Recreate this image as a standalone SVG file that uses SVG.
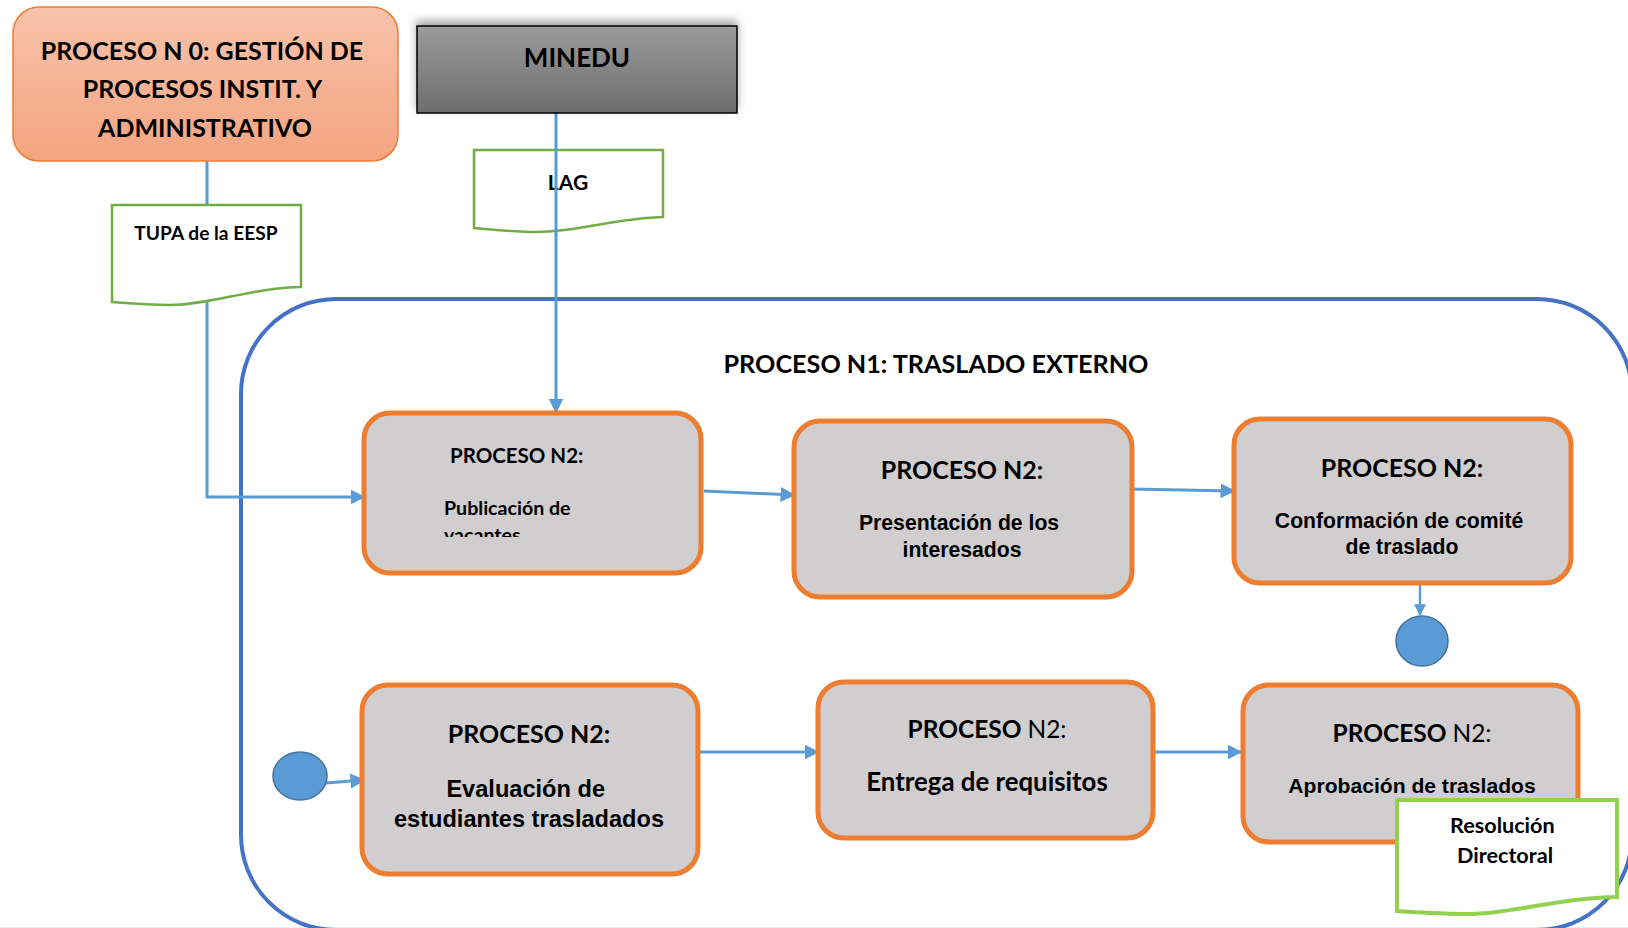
<svg xmlns="http://www.w3.org/2000/svg" width="1628" height="928" viewBox="0 0 1628 928">
  <style>
    .cal { font-family: Lato, "Open Sans", sans-serif; font-weight: 700; fill: #000; }
    .ari { font-family: "Liberation Sans", Arial, sans-serif; font-weight: 700; fill: #000; }
    .reg { font-weight: 400; }
    .proc { fill: #D0CECE; stroke: #ED7D31; stroke-width: 5; }
    .doc { fill: #fff; stroke: #70AD47; stroke-width: 2.5; }
    .doc2 { fill: #fff; stroke: #92D050; stroke-width: 4; }
    .link { fill: none; stroke: #5B9BD5; stroke-width: 3; }
    .dot { fill: #5B9BD5; stroke: #41719C; stroke-width: 1.5; }
  </style>
  <defs>
    <marker id="arr" viewBox="0 0 10 10" refX="9" refY="5" markerWidth="5" markerHeight="5" orient="auto" markerUnits="strokeWidth">
      <path d="M0,0 L10,5 L0,10 Z" fill="#5B9BD5"/>
    </marker>
    <linearGradient id="gOrange" x1="0" y1="0" x2="0" y2="1">
      <stop offset="0" stop-color="#F7C3AC"/>
      <stop offset="1" stop-color="#F4A47F"/>
    </linearGradient>
    <linearGradient id="gGray" x1="0" y1="0" x2="0" y2="1">
      <stop offset="0" stop-color="#9B9B9B"/>
      <stop offset="1" stop-color="#6D6D6D"/>
    </linearGradient>
    <filter id="shadow" x="-10%" y="-40%" width="120%" height="160%">
      <feGaussianBlur in="SourceAlpha" stdDeviation="4"/>
      <feOffset dx="0" dy="-5" result="b"/>
      <feComponentTransfer><feFuncA type="linear" slope="0.35"/></feComponentTransfer>
      <feMerge><feMergeNode/><feMergeNode in="SourceGraphic"/></feMerge>
    </filter>
    <clipPath id="clipPub">
      <rect x="366" y="415" width="333" height="122"/>
    </clipPath>
  </defs>

  <rect x="0" y="0" width="1628" height="928" fill="#fff"/>
  <rect x="0" y="927" width="1628" height="1" fill="#ECEAF6"/>

  <!-- container: PROCESO N1 -->
  <g id="container">
    <rect x="241" y="299" width="1391" height="631" rx="95" ry="95" fill="none" stroke="#4472C4" stroke-width="4"/>
    <text class="cal" x="936" y="373" font-size="25.2" text-anchor="middle">PROCESO N1: TRASLADO EXTERNO</text>
  </g>

  <!-- LAG document (line passes over it) -->
  <g id="doc-lag">
    <path class="doc" d="M474,150 H663 V217 C615,218 575,233 530,232 C505,231 486,229 474,228 Z"/>
    <text class="cal" x="568" y="190" font-size="21" text-anchor="middle">LAG</text>
  </g>

  <!-- connectors -->
  <g id="connectors">
    <path class="link" d="M207,161 V497 H364" marker-end="url(#arr)"/>
    <path class="link" d="M556,113 V412" marker-end="url(#arr)"/>
    <path class="link" d="M704,491 L794,495" marker-end="url(#arr)"/>
    <path class="link" d="M1130,489 L1234,491" marker-end="url(#arr)"/>
    <path class="link" d="M1420,577 V615" marker-end="url(#arr)" style="stroke-width:2.4"/>
    <path class="link" d="M326,783 L364,780" marker-end="url(#arr)"/>
    <path class="link" d="M698,752 H818" marker-end="url(#arr)"/>
    <path class="link" d="M1155,752 H1241" marker-end="url(#arr)"/>
  </g>

  <!-- PROCESO N0 -->
  <g id="proceso-n0">
    <rect x="13" y="7" width="385" height="154" rx="26" fill="url(#gOrange)" stroke="#ED7D31" stroke-width="1.5"/>
    <text class="cal" font-size="25" text-anchor="middle">
      <tspan x="205" y="60">PROCESO N 0: GESTIÓN DE</tspan>
      <tspan x="205" y="98">PROCESOS INSTIT. Y</tspan>
      <tspan x="205" y="137">ADMINISTRATIVO</tspan>
    </text>
  </g>

  <!-- MINEDU -->
  <g id="minedu">
    <rect x="417" y="26" width="320" height="87" fill="url(#gGray)" stroke="#000" stroke-width="1.5" filter="url(#shadow)"/>
    <text class="cal" x="577" y="67" font-size="26" text-anchor="middle">MINEDU</text>
  </g>

  <!-- TUPA document -->
  <g id="doc-tupa">
    <path class="doc" d="M112,205 H301 V287 C250,288 210,305 170,305 C145,305 125,303 112,302 Z"/>
    <text class="cal" x="206" y="240" font-size="19.2" text-anchor="middle">TUPA de la EESP</text>
  </g>

  <!-- Publicación de vacantes -->
  <g id="p-publicacion">
    <rect class="proc" x="364" y="413" width="337" height="160" rx="26"/>
    <text class="cal" x="450" y="463" font-size="20.5">PROCESO N2:</text>
    <g clip-path="url(#clipPub)">
      <text class="cal" font-size="19.6">
        <tspan x="444" y="515">Publicación de</tspan>
        <tspan x="444" y="542">vacantes</tspan>
      </text>
    </g>
  </g>

  <!-- Presentación de los interesados -->
  <g id="p-presentacion">
    <rect class="proc" x="794" y="421" width="338" height="176" rx="26"/>
    <text class="cal" x="962" y="479" font-size="25" text-anchor="middle">PROCESO N2:</text>
    <text class="ari" font-size="21.2" text-anchor="middle">
      <tspan x="962" y="530">Presentación de los</tspan>
      <tspan x="962" y="557">interesados</tspan>
    </text>
  </g>

  <!-- Conformación de comité de traslado -->
  <g id="p-conformacion">
    <rect class="proc" x="1234" y="419" width="337" height="164" rx="26"/>
    <text class="cal" x="1402" y="477" font-size="25" text-anchor="middle">PROCESO N2:</text>
    <text class="ari" font-size="21.2" text-anchor="middle">
      <tspan x="1402" y="528">Conformación de comité</tspan>
      <tspan x="1402" y="554">de traslado</tspan>
    </text>
  </g>

  <!-- connector dot after Conformación -->
  <g id="dot-end">
    <ellipse class="dot" cx="1422" cy="641" rx="26" ry="25"/>
  </g>

  <!-- connector dot before Evaluación -->
  <g id="dot-start">
    <ellipse class="dot" cx="300" cy="776" rx="27" ry="24"/>
  </g>

  <!-- Evaluación de estudiantes trasladados -->
  <g id="p-evaluacion">
    <rect class="proc" x="362" y="685" width="336" height="189" rx="26"/>
    <text class="cal" x="529" y="743" font-size="25" text-anchor="middle">PROCESO N2:</text>
    <text class="ari" font-size="23.6" text-anchor="middle">
      <tspan x="529" y="797">Evaluación de</tspan>
      <tspan x="529" y="827">estudiantes trasladados</tspan>
    </text>
  </g>

  <!-- Entrega de requisitos -->
  <g id="p-entrega">
    <rect class="proc" x="818" y="682" width="335" height="156" rx="26"/>
    <text class="cal" x="987" y="738" font-size="24.5" text-anchor="middle">PROCESO <tspan class="reg">N2:</tspan></text>
    <text class="cal" x="987" y="791" font-size="25.8" text-anchor="middle">Entrega de requisitos</text>
  </g>

  <!-- Aprobación de traslados -->
  <g id="p-aprobacion">
    <rect class="proc" x="1243" y="685" width="335" height="157" rx="26"/>
    <text class="cal" x="1412" y="742" font-size="24.5" text-anchor="middle">PROCESO <tspan class="reg">N2:</tspan></text>
    <text class="ari" x="1412" y="793" font-size="21.1" text-anchor="middle">Aprobación de traslados</text>
  </g>

  <!-- Resolución Directoral document -->
  <g id="doc-resolucion">
    <path class="doc2" d="M1397,800 H1617 V897 C1555,898 1510,915 1460,914 C1430,913 1410,912 1397,911 Z"/>
    <text class="cal" font-size="21.6" text-anchor="middle">
      <tspan x="1505" y="833">Resolución</tspan>
      <tspan x="1505" y="863">Directoral</tspan>
    </text>
  </g>
</svg>
